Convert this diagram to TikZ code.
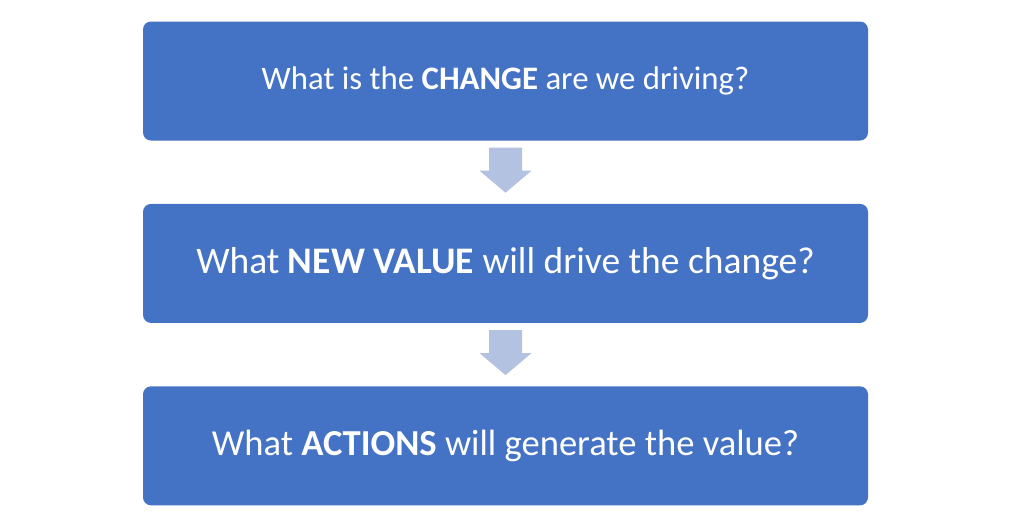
\documentclass[tikz,border=0pt]{standalone}
\usepackage{fontspec}
\setmainfont{Carlito}
\usepackage{tikz}
\usetikzlibrary{positioning}

\definecolor{boxblue}{HTML}{4472C4}
\definecolor{arrowblue}{HTML}{B4C2E2}

\begin{document}
\begin{tikzpicture}[x=1pt,y=-1pt,
  question/.style={fill=boxblue, rounded corners=8pt, minimum width=725pt, minimum height=119pt, text=white, inner sep=0pt},
  downarrow/.style={fill=arrowblue}]

\useasboundingbox (0,0) rectangle (1024,528);

\node [question] (change) at (505.5,81) {\fontsize{32.8}{39}\selectfont What is the \textbf{CHANGE} are we driving?};
\node [question, below=63pt of change] (value) {\fontsize{37.5}{45}\selectfont What \textbf{NEW VALUE} will drive the change?};
\node [question, below=63pt of value] (actions) {\fontsize{36.6}{44}\selectfont What \textbf{ACTIONS} will generate the value?};

% block arrows between the boxes
\fill [downarrow] ([shift={(-16.5,7)}]change.south) -- ([shift={(16.5,7)}]change.south) -- ([shift={(16.5,30)}]change.south) -- ([shift={(26,30)}]change.south) -- ([shift={(0,52)}]change.south) -- ([shift={(-26,30)}]change.south) -- ([shift={(-16.5,30)}]change.south) -- cycle;
\fill [downarrow] ([shift={(-16.5,7)}]value.south) -- ([shift={(16.5,7)}]value.south) -- ([shift={(16.5,30)}]value.south) -- ([shift={(26,30)}]value.south) -- ([shift={(0,52)}]value.south) -- ([shift={(-26,30)}]value.south) -- ([shift={(-16.5,30)}]value.south) -- cycle;

\end{tikzpicture}
\end{document}
